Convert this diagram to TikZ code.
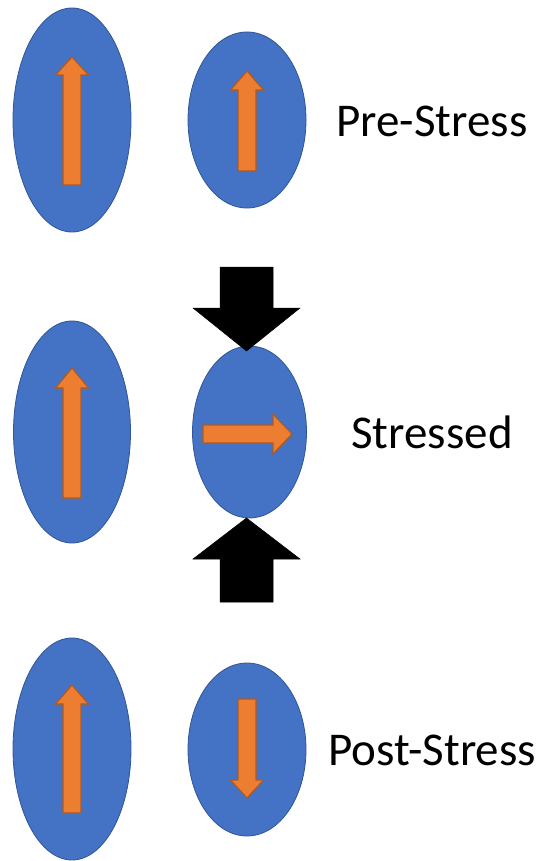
\documentclass[tikz,border=0pt]{standalone}
\usepackage{fontspec}
\setmainfont{Carlito}
\usetikzlibrary{shapes.geometric}
\definecolor{cellblue}{HTML}{4472C4}
\definecolor{celledge}{HTML}{2F5597}
\definecolor{spinorange}{HTML}{ED7D31}
\definecolor{spinedge}{HTML}{AE5A21}
\tikzset{
  cell/.style={ellipse, fill=cellblue, draw=celledge, line width=0.8pt, inner sep=0pt},
  spin/.style={fill=spinorange, draw=spinedge, line width=1.2pt, line join=miter},
  force/.style={fill=black, draw=black, line width=0.5pt},
  lbl/.style={font=\fontsize{47}{56}\selectfont, inner sep=0pt}
}
% vertical arrow: center x, tip y, head base y, tail y
\newcommand{\spinvert}[4]{%
  \path[spin] (#1-9,#4) -- (#1-9,#3) -- (#1-16.5,#3) -- (#1,#2) -- (#1+16.5,#3) -- (#1+9,#3) -- (#1+9,#4) -- cycle;}
\begin{document}
\begin{tikzpicture}[x=1pt,y=-1pt]
\useasboundingbox (0,0) rectangle (545,861);
% Pre-stress
\node[cell, minimum width=118pt, minimum height=224pt] (tl) at (72,120) {};
\node[cell, minimum width=118pt, minimum height=176pt] (tr) at (247,120) {};
\spinvert{72}{57}{75}{185}
\spinvert{247}{71}{90}{171}
\node[lbl] (pre) at (432,121) {Pre-Stress};
% Stressed
\node[cell, minimum width=117pt, minimum height=222pt] (ml) at (72,432) {};
\node[cell, minimum width=114pt, minimum height=172pt] (mc) at (249.5,432) {};
\spinvert{72}{368}{388}{498}
\path[spin] (203,425) -- (273,425) -- (273,414) -- (292,434) -- (273,454) -- (273,443) -- (203,443) -- cycle;
\path[force] (220,267) -- (273,267) -- (273,308) -- (300,308) -- (246.5,351) -- (193,308) -- (220,308) -- cycle;
\path[force] (220,602) -- (273,602) -- (273,559) -- (300,559) -- (246.5,518) -- (193,559) -- (220,559) -- cycle;
\node[lbl] (str) at (432,432) {Stressed};
% Post-stress
\node[cell, minimum width=118pt, minimum height=222pt] (bl) at (72,749) {};
\node[cell, minimum width=118pt, minimum height=173pt] (br) at (247,749.5) {};
\spinvert{72}{685}{704}{813}
\spinvert{247}{798}{780}{699}
\node[lbl] (post) at (432,750) {Post-Stress};
\end{tikzpicture}
\end{document}
